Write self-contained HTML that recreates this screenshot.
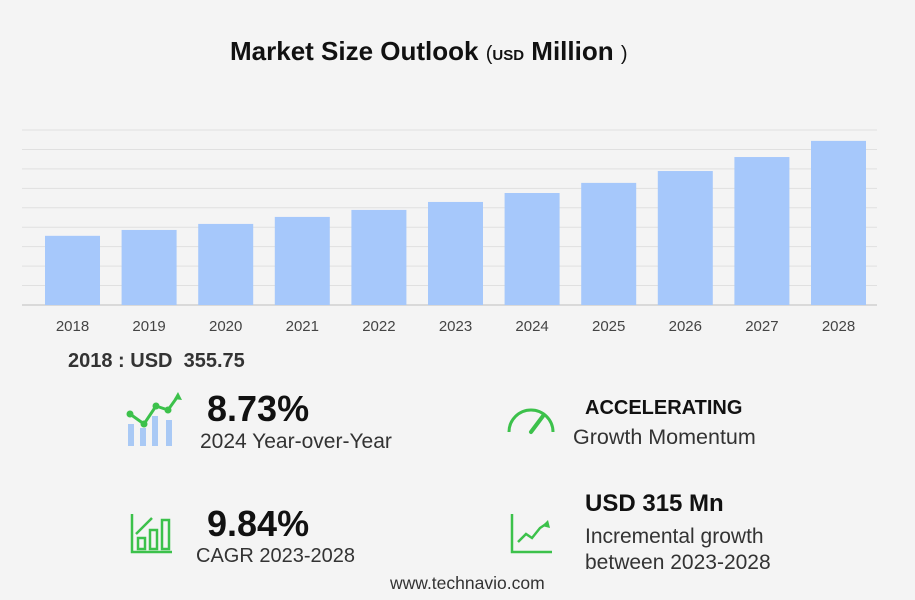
<!DOCTYPE html>
<html><head><meta charset="utf-8">
<style>
body{margin:0;width:915px;height:600px;background:#f4f4f4;font-family:"Liberation Sans",sans-serif;overflow:hidden;position:relative;color:#222}
.t{position:absolute;white-space:nowrap}
</style></head><body>
<div class="t" style="left:230px;top:36px;font-size:26px;font-weight:bold;color:#111">Market Size Outlook <span style="font-weight:normal;font-size:20px">(</span><span style="font-size:15px">USD</span> Million <span style="font-weight:normal;font-size:20px">)</span></div>
<svg id="chart" width="915" height="340" style="position:absolute;left:0;top:0"></svg>
<div class="t" style="left:68px;top:350px;font-size:20px;font-weight:bold;color:#333">2018 : USD&nbsp; 355.75</div>

<svg style="position:absolute;left:124px;top:392px" width="60" height="56">
<rect x="4" y="32" width="6" height="22" fill="#a9c9f5"/><rect x="16" y="36" width="6" height="18" fill="#a9c9f5"/><rect x="28" y="24" width="6" height="30" fill="#a9c9f5"/><rect x="42" y="28" width="6" height="26" fill="#a9c9f5"/>
<polyline points="6,22 20,32 32,14 44,18 54,4" fill="none" stroke="#3cc14b" stroke-width="3"/>
<circle cx="6" cy="22" r="3.5" fill="#3cc14b"/><circle cx="20" cy="32" r="3.5" fill="#3cc14b"/><circle cx="32" cy="14" r="3.5" fill="#3cc14b"/><circle cx="44" cy="18" r="3.5" fill="#3cc14b"/>
<polygon points="54,0 58,8 50,7" fill="#3cc14b"/></svg>
<div class="t" style="left:207px;top:388px;font-size:36px;font-weight:bold;color:#111">8.73%</div>
<div class="t" style="left:200px;top:430px;font-size:21px;color:#333">2024 Year-over-Year</div>

<svg style="position:absolute;left:505px;top:402px" width="52" height="34">
<path d="M4,30 A22,22 0 0 1 48,30" fill="none" stroke="#3cc14b" stroke-width="3"/>
<line x1="26" y1="30" x2="38" y2="14" stroke="#3cc14b" stroke-width="4" stroke-linecap="round"/></svg>
<div class="t" style="left:585px;top:397px;font-size:20px;font-weight:bold;color:#111">ACCELERATING</div>
<div class="t" style="left:573px;top:425px;font-size:21.5px;color:#333">Growth Momentum</div>

<svg style="position:absolute;left:130px;top:512px" width="44" height="44">
<g fill="none" stroke="#3cc14b" stroke-width="2.5"><polyline points="2,2 2,40 42,40"/><rect x="8" y="26" width="7" height="11"/><rect x="20" y="18" width="7" height="19"/><rect x="32" y="8" width="7" height="29"/><polyline points="6,22 22,6"/></g></svg>
<div class="t" style="left:207px;top:503px;font-size:36px;font-weight:bold;color:#111">9.84%</div>
<div class="t" style="left:196px;top:545px;font-size:20px;color:#333">CAGR 2023-2028</div>

<svg style="position:absolute;left:510px;top:514px" width="42" height="40">
<g fill="none" stroke="#3cc14b" stroke-width="2.5"><polyline points="2,0 2,38 42,38"/><polyline points="8,28 16,20 22,24 30,14 36,10"/></g><polygon points="38,6 40,14 32,12" fill="#3cc14b"/></svg>
<div class="t" style="left:585px;top:490px;font-size:24px;font-weight:bold;color:#111">USD 315 Mn</div>
<div class="t" style="left:585px;top:524px;font-size:21px;color:#333;line-height:26px">Incremental growth<br>between 2023-2028</div>
<div class="t" style="left:390px;top:573px;font-size:17.5px;color:#333">www.technavio.com</div>

<script>
const years=["2018","2019","2020","2021","2022","2023","2024","2025","2026","2027","2028"];
const values=[355.75,386,417,453,489,530,576,628,689,761,844];
const gridTicks=[0,100,200,300,400,500,600,700,800,900];
const svg=document.getElementById('chart');
const NS="http://www.w3.org/2000/svg";
const y0=305,yTop=130,yMax=900;
const y=v=>y0-(v/yMax)*(y0-yTop);
const x=i=>45+i*76.6;
const bw=55;
gridTicks.forEach(t=>{
 const l=document.createElementNS(NS,'line');
 
 
 l.setAttribute('x1',22);l.setAttribute('x2',877);
 l.setAttribute('y1',y(t));l.setAttribute('y2',y(t));
 l.setAttribute('stroke',t===0?'#d0d0d0':'#e0e0e0');l.setAttribute('stroke-width',t===0?1.5:1);
 svg.appendChild(l);
});
years.forEach((yr,i)=>{
 const r=document.createElementNS(NS,'rect');
 
 
 r.setAttribute('x',x(i));r.setAttribute('width',bw);
 r.setAttribute('y',y(values[i]));r.setAttribute('height',y0-y(values[i]));
 r.setAttribute('fill','#a6c8fb');
 svg.appendChild(r);
 const t=document.createElementNS(NS,'text');
 
 
 t.setAttribute('x',x(i)+bw/2);t.setAttribute('y',331);
 t.setAttribute('text-anchor','middle');t.setAttribute('font-size','15');
 t.setAttribute('fill','#444');t.setAttribute('font-family','Liberation Sans, sans-serif');
 t.textContent=yr;
 svg.appendChild(t);
});
</script>
</body></html>
